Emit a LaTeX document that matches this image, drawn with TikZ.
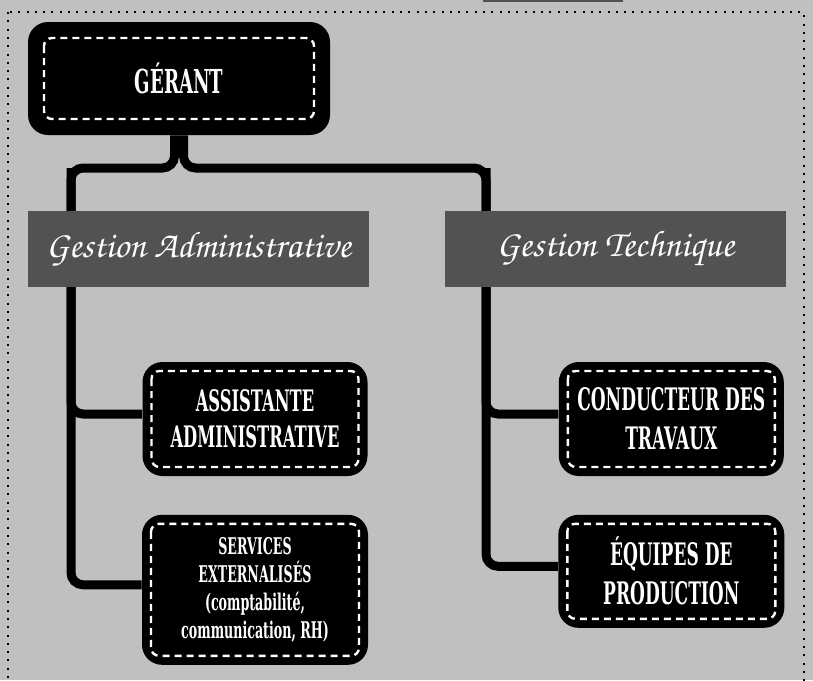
\documentclass[tikz,border=0pt]{standalone}
\usepackage[T1,TU]{fontenc}
\usepackage{fontspec}
\usepackage{tikz}
\usetikzlibrary{positioning}
\newfontfamily\boxfont{DejaVu Serif}[FakeStretch=0.55]
\newcommand\handfont{\fontencoding{T1}\fontfamily{pzc}\fontseries{mb}\fontshape{it}\selectfont}
\definecolor{paper}{RGB}{192,192,192}
\definecolor{band}{RGB}{82,82,82}
\tikzset{stitch gap/.store in=\stitchgap, stitch gap=4.5pt}
\tikzstyle{stitch} = [draw=white, fill=none, line width=1.2pt, dash pattern=on 3.5pt off 2.5pt, rounded corners=4pt]
\tikzstyle{post} = [rectangle, rounded corners=10pt, fill=black, text=white, align=center, minimum width=112.5pt, minimum height=57pt, font=\boxfont\bfseries\fontsize{14.8}{18}\selectfont, path picture={\draw[stitch] ([shift={(\stitchgap,-\stitchgap)}]path picture bounding box.north west) rectangle ([shift={(-\stitchgap,\stitchgap)}]path picture bounding box.south east);}]
\tikzstyle{branch} = [rectangle, fill=band, text=white, minimum width=170.5pt, minimum height=38pt, font=\handfont\fontsize{18.5}{20}\selectfont]
\tikzstyle{link} = [line width=4.5pt, rounded corners=6pt]
\tikzstyle{frame} = [line width=1pt, dash pattern=on 1pt off 3.15pt]

\begin{document}
\begin{tikzpicture}[x=0.5pt, y=-0.5pt]
  \useasboundingbox (0,0) rectangle (813,680);
  \clip (0,0) rectangle (813,680);
  \fill[paper] (0,0) rectangle (813,680);
  \fill[band] (483,-5) rectangle (623,1.5);
  \draw[frame] (8,12) rectangle (803.5,700);
  % boxes
  \node (gerant) [post, stitch gap=8pt, minimum width=151pt, minimum height=56.5pt, font=\boxfont\bfseries\fontsize{16.5}{20}\selectfont] at (179,78.5) {GÉRANT};
  \node (assist) [post] at (255,419) {ASSISTANTE\\ADMINISTRATIVE};
  \node (services) [post, below=19pt of assist, minimum width=113pt, minimum height=75pt, font=\boxfont\bfseries\fontsize{11.5}{14}\selectfont] {SERVICES\\EXTERNALISÉS\\(comptabilité,\\communication, RH)};
  \node (conducteur) [post, right=95.25pt of assist, font=\boxfont\bfseries\fontsize{15.5}{19.5}\selectfont] {CONDUCTEUR DES\\TRAVAUX};
  \node (equipes) [post, below=19pt of conducteur, minimum width=113pt, minimum height=56.5pt, font=\boxfont\bfseries\fontsize{15.5}{19.5}\selectfont] {ÉQUIPES DE\\PRODUCTION};
  % connectors
  \coordinate (ltrunk) at (71,168);
  \coordinate (rtrunk) at (486,168);
  \draw [link] ([xshift=-2.25pt]gerant.south) |- (ltrunk) |- ([yshift=2.5pt]assist.west);
  \draw [link] (ltrunk) |- ([yshift=2.5pt]services.west);
  \draw [link] ([xshift=2.25pt]gerant.south) |- (rtrunk) |- ([yshift=2.5pt]conducteur.west);
  \draw [link] (rtrunk) |- ([yshift=2.5pt]equipes.west);
  % banners
  \node (gadmin) [branch] at (198.5,249) {Gestion Administrative};
  \node (gtech) [branch, right=37.5pt of gadmin] {Gestion Technique};
\end{tikzpicture}
\end{document}
